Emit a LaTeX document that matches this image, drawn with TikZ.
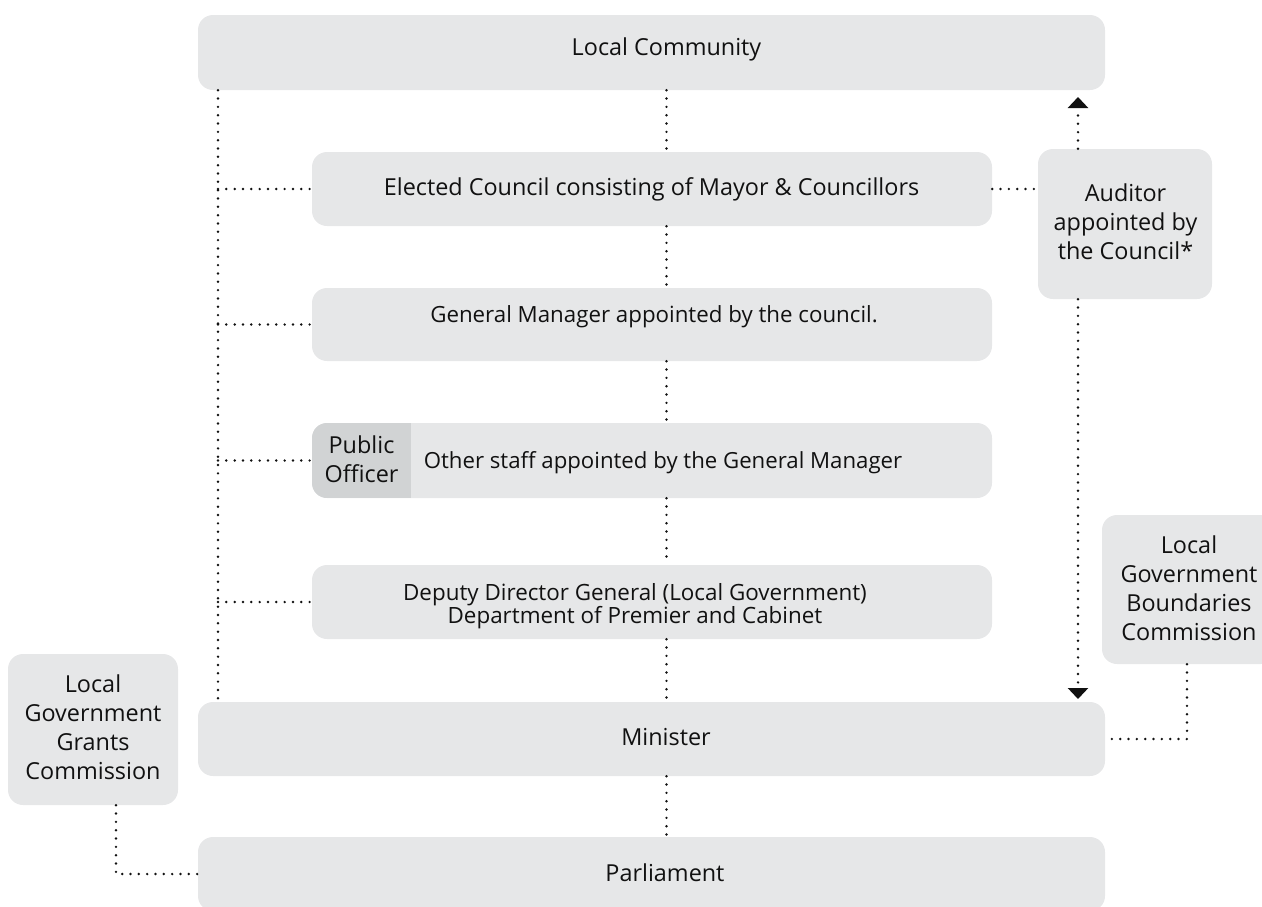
\documentclass[tikz,border=0pt]{standalone}
\usepackage{fontspec}
\setmainfont{Open Sans}
\usetikzlibrary{arrows.meta}
\definecolor{boxgray}{HTML}{E6E7E8}
\definecolor{pubgray}{HTML}{D1D3D4}
\definecolor{ink}{HTML}{111111}
\begin{document}
\begin{tikzpicture}[x=1pt,y=-1pt,
  box/.style={fill=boxgray, rounded corners=15pt, inner sep=0pt, draw=none},
  txt/.style={font=\fontsize{23.4}{29}\selectfont, text=ink, inner sep=0pt, align=center, anchor=base},
  smalltxt/.style={txt, font=\fontsize{22.3}{29}\selectfont},
  tighttxt/.style={txt, font=\fontsize{22.4}{23.5}\selectfont},
  dotline/.style={line width=2.7pt, dash pattern=on 0pt off 8.33pt, line cap=round, draw=ink},
  tipend/.style={-{Triangle[width=20pt,length=11pt]}}
]
\useasboundingbox (0,0) rectangle (1262,906);
\clip (0,0) rectangle (1262,906);
% boxes
\node[box, minimum width=907pt, minimum height=75pt] (lc) at (651.5,52.5) {};
\node[box, minimum width=680pt, minimum height=74pt] (ec) at (652,189) {};
\node[box, minimum width=174pt, minimum height=150pt] (au) at (1125,224) {};
\node[box, minimum width=680pt, minimum height=73pt] (gm) at (652,324.5) {};
\node[box, minimum width=680pt, minimum height=75pt] (os) at (652,460.5) {};
\begin{scope}
  \clip[rounded corners=15pt] (312,423) rectangle (992,498);
  \fill[pubgray] (312,423) rectangle (411,498);
\end{scope}
\node[inner sep=0pt, minimum width=99pt, minimum height=75pt] (po) at (361.5,460.5) {};
\node[box, minimum width=680pt, minimum height=74pt] (dd) at (652,602) {};
\node[box, minimum width=907pt, minimum height=74pt] (mi) at (651.5,739) {};
\node[box, minimum width=907pt, minimum height=74pt] (pa) at (651.5,874) {};
\node[box, minimum width=170pt, minimum height=151pt] (gc) at (93,729.5) {};
\node[box, minimum width=174pt, minimum height=149pt] (bc) at (1189,589.5) {};
% texts (base anchor = baseline of the last line)
\node[txt] (lct) at (666.5,55) {Local Community};
\node[txt] (ect) at (651.5,195) {Elected Council consisting of Mayor \& Councillors};
\node[smalltxt] (gmt) at (654,322) {General Manager appointed by the council.};
\node[smalltxt, font=\fontsize{22.2}{29}\selectfont] (ost) at (663,468) {Other staff appointed by the General Manager};
\node[txt] (pot) at (361.5,482) {Public\\Officer};
\node[tighttxt] (ddt) at (635,623.5) {Deputy Director General (Local Government)\\Department of Premier and Cabinet};
\node[txt] (mit) at (666,745) {Minister};
\node[txt] (pat) at (665,881) {Parliament};
\node[txt] (aut) at (1125.5,259) {Auditor\\appointed by\\the Council*};
\node[txt] (gct) at (93,779) {Local\\Government\\Grants\\Commission};
\node[txt] (bct) at (1189,640) {Local\\Government\\Boundaries\\Commission};
% helper coordinates
\coordinate (xL) at (218,0);
\coordinate (xC) at (666.5,0);
\coordinate (xA) at (1078,0);
\coordinate (xG) at (116,0);
\coordinate (xB) at (1187,0);
\coordinate (aTop) at (1078,97);
\coordinate (aBot) at (1078,699);
% connectors
\draw[dotline] (lc.south -| xL) -- (mi.north -| xL);
\foreach \n in {ec,gm,os,dd} \draw[dotline] (\n.west -| xL) -- (\n.west);
\draw[dotline] (lc.south -| xC) -- (ec.north -| xC);
\draw[dotline] (ec.south -| xC) -- (gm.north -| xC);
\draw[dotline] (gm.south -| xC) -- (os.north -| xC);
\draw[dotline] (os.south -| xC) -- (dd.north -| xC);
\draw[dotline] (dd.south -| xC) -- (mi.north -| xC);
\draw[dotline] (mi.south -| xC) -- (pa.north -| xC);
\draw[dotline] (ec.east) -- (au.west |- ec.east);
\draw[dotline, tipend] (au.north -| xA) -- (aTop);
\draw[dotline, tipend] (au.south -| xA) -- (aBot);
\draw[dotline] (gc.south -| xG) |- (pa.west);
\draw[dotline] (bc.south -| xB) |- (mi.east);
\end{tikzpicture}
\end{document}
